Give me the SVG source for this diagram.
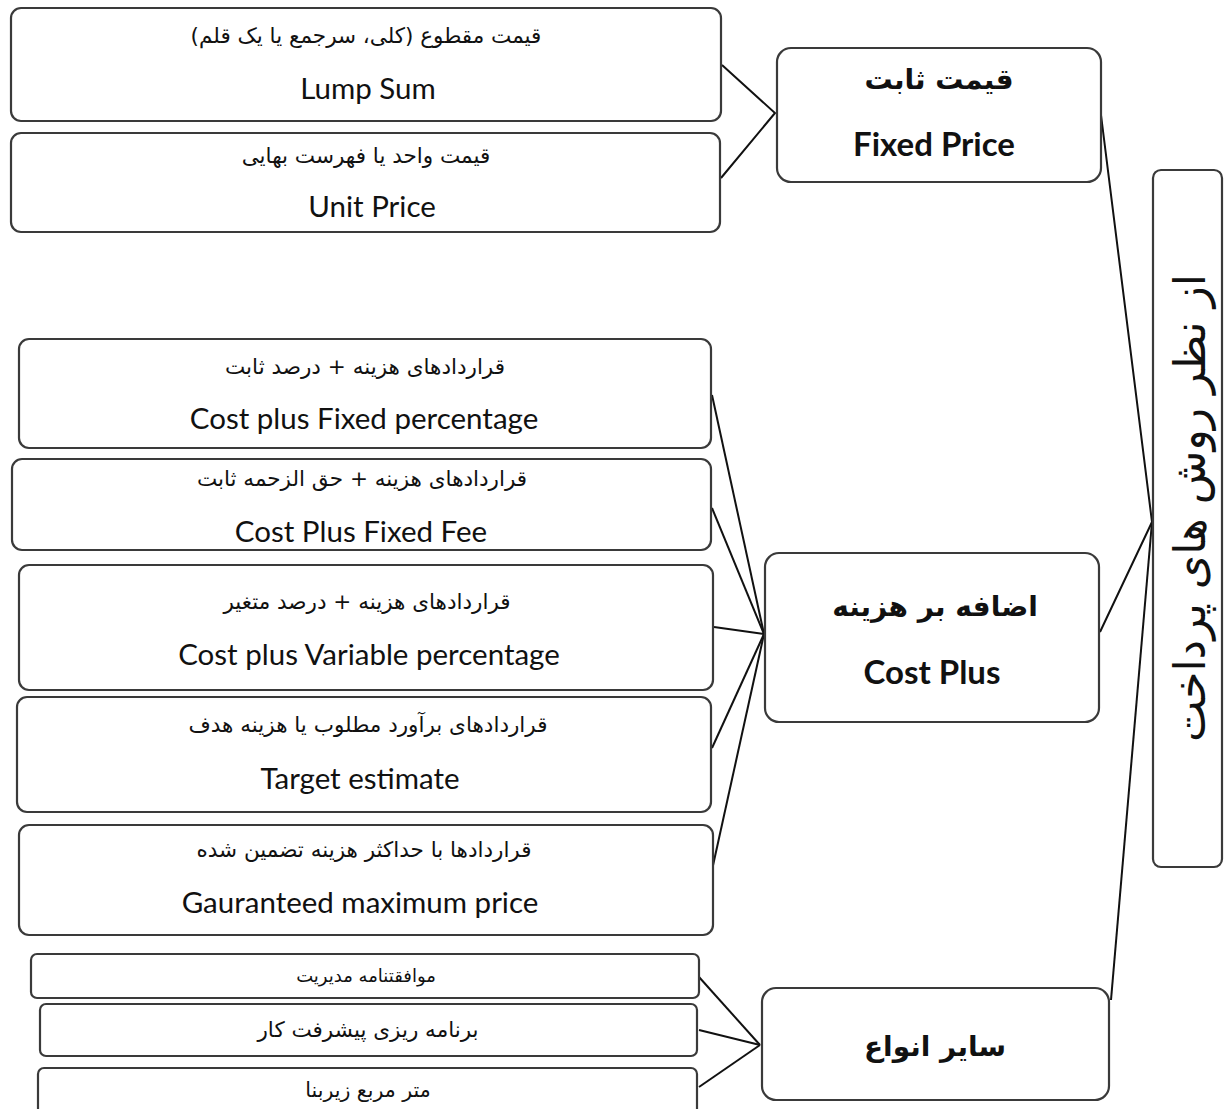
<svg xmlns="http://www.w3.org/2000/svg" width="1225" height="1109" viewBox="0 0 1225 1109">
  <style>
    .box { fill: #ffffff; stroke: #3a3a3a; stroke-width: 2.2; }
    .link { fill: none; stroke: #111111; stroke-width: 2; }
    .fa { font-family: "DejaVu Sans", "Noto Sans", sans-serif; fill: #111111; text-anchor: middle; direction: rtl; unicode-bidi: embed; }
    .en { font-family: "Lato", "Liberation Sans", sans-serif; fill: #111111; text-anchor: middle; }
    .sub { font-size: 21.5px; }
    .en-sub { font-size: 29.5px; }
    .head-fa { font-size: 28px; font-weight: bold; }
    .head-en { font-size: 33px; font-weight: bold; }
  </style>
  <rect width="1225" height="1109" fill="#ffffff"/>

  <!-- connectors -->
  <g id="connectors">
    <!-- root to categories -->
    <polyline class="link" points="1101,115 1152,522 1100,632"/>
    <line class="link" x1="1152" y1="522" x2="1111" y2="1000"/>
    <!-- fixed price group -->
    <polyline class="link" points="722,65 775,113 721,178"/>
    <!-- cost plus group -->
    <line class="link" x1="712" y1="395" x2="764" y2="634"/>
    <line class="link" x1="712" y1="508" x2="764" y2="634"/>
    <line class="link" x1="714" y1="627" x2="764" y2="634"/>
    <line class="link" x1="712" y1="748" x2="764" y2="634"/>
    <line class="link" x1="712" y1="870" x2="764" y2="634"/>
    <!-- other types group -->
    <line class="link" x1="699" y1="977" x2="760" y2="1045"/>
    <line class="link" x1="699" y1="1030" x2="760" y2="1045"/>
    <line class="link" x1="699" y1="1087" x2="760" y2="1045"/>
  </g>

  <!-- root -->
  <g id="root">
    <rect class="box" x="1153" y="170" width="69" height="697" rx="8"/>
    <text class="fa" font-size="44" transform="translate(1205,508) rotate(-90)">از نظر روش های پرداخت</text>
  </g>

  <!-- category: fixed price -->
  <g id="fixed-price">
    <rect class="box" x="777" y="48" width="324" height="134" rx="14"/>
    <text class="fa head-fa" x="939" y="89">قیمت ثابت</text>
    <text class="en head-en" x="934" y="156">Fixed Price</text>
  </g>

  <g id="lump-sum">
    <rect class="box" x="11" y="8" width="710" height="113" rx="10"/>
    <text class="fa sub" x="366" y="43">قیمت مقطوع (کلی، سرجمع یا یک قلم)</text>
    <text class="en en-sub" x="368" y="99">Lump Sum</text>
  </g>

  <g id="unit-price">
    <rect class="box" x="11" y="133" width="709" height="99" rx="10"/>
    <text class="fa sub" x="366" y="163">قیمت واحد یا فهرست بهایی</text>
    <text class="en en-sub" x="372" y="217">Unit Price</text>
  </g>

  <!-- category: cost plus -->
  <g id="cost-plus">
    <rect class="box" x="765" y="553" width="334" height="169" rx="14"/>
    <text class="fa head-fa" x="935" y="616">اضافه بر هزینه</text>
    <text class="en head-en" x="932" y="684">Cost Plus</text>
  </g>

  <g id="cost-plus-fixed-percentage">
    <rect class="box" x="19" y="339" width="692" height="109" rx="10"/>
    <text class="fa sub" x="365" y="374">قراردادهای هزینه + درصد ثابت</text>
    <text class="en en-sub" x="364" y="429">Cost plus Fixed percentage</text>
  </g>

  <g id="cost-plus-fixed-fee">
    <rect class="box" x="12" y="459" width="699" height="91" rx="10"/>
    <text class="fa sub" x="362" y="486">قراردادهای هزینه + حق الزحمه ثابت</text>
    <text class="en en-sub" x="361" y="542">Cost Plus Fixed Fee</text>
  </g>

  <g id="cost-plus-variable-percentage">
    <rect class="box" x="19" y="565" width="694" height="125" rx="10"/>
    <text class="fa sub" x="367" y="609">قراردادهای هزینه + درصد متغیر</text>
    <text class="en en-sub" x="369" y="665">Cost plus Variable percentage</text>
  </g>

  <g id="target-estimate">
    <rect class="box" x="17" y="697" width="694" height="115" rx="10"/>
    <text class="fa sub" x="368" y="732">قراردادهای برآورد مطلوب یا هزینه هدف</text>
    <text class="en en-sub" x="360" y="789">Target estimate</text>
  </g>

  <g id="guaranteed-maximum-price">
    <rect class="box" x="19" y="825" width="694" height="110" rx="10"/>
    <text class="fa sub" x="364" y="857">قراردادها با حداکثر هزینه تضمین شده</text>
    <text class="en en-sub" x="360" y="913">Gauranteed maximum price</text>
  </g>

  <!-- category: other types -->
  <g id="other-types">
    <rect class="box" x="762" y="988" width="347" height="112" rx="14"/>
    <text class="fa head-fa" x="935" y="1056">سایر انواع</text>
  </g>

  <g id="management-agreement">
    <rect class="box" x="31" y="954" width="668" height="44" rx="6"/>
    <text class="fa" font-size="18" x="366" y="982">موافقتنامه مدیریت</text>
  </g>

  <g id="progress-schedule">
    <rect class="box" x="40" y="1004" width="657" height="52" rx="6"/>
    <text class="fa sub" x="368" y="1037">برنامه ریزی پیشرفت کار</text>
  </g>

  <g id="floor-area">
    <rect class="box" x="38" y="1068" width="659" height="60" rx="6"/>
    <text class="fa" font-size="20.5" x="368" y="1097">متر مربع زیربنا</text>
  </g>
</svg>
